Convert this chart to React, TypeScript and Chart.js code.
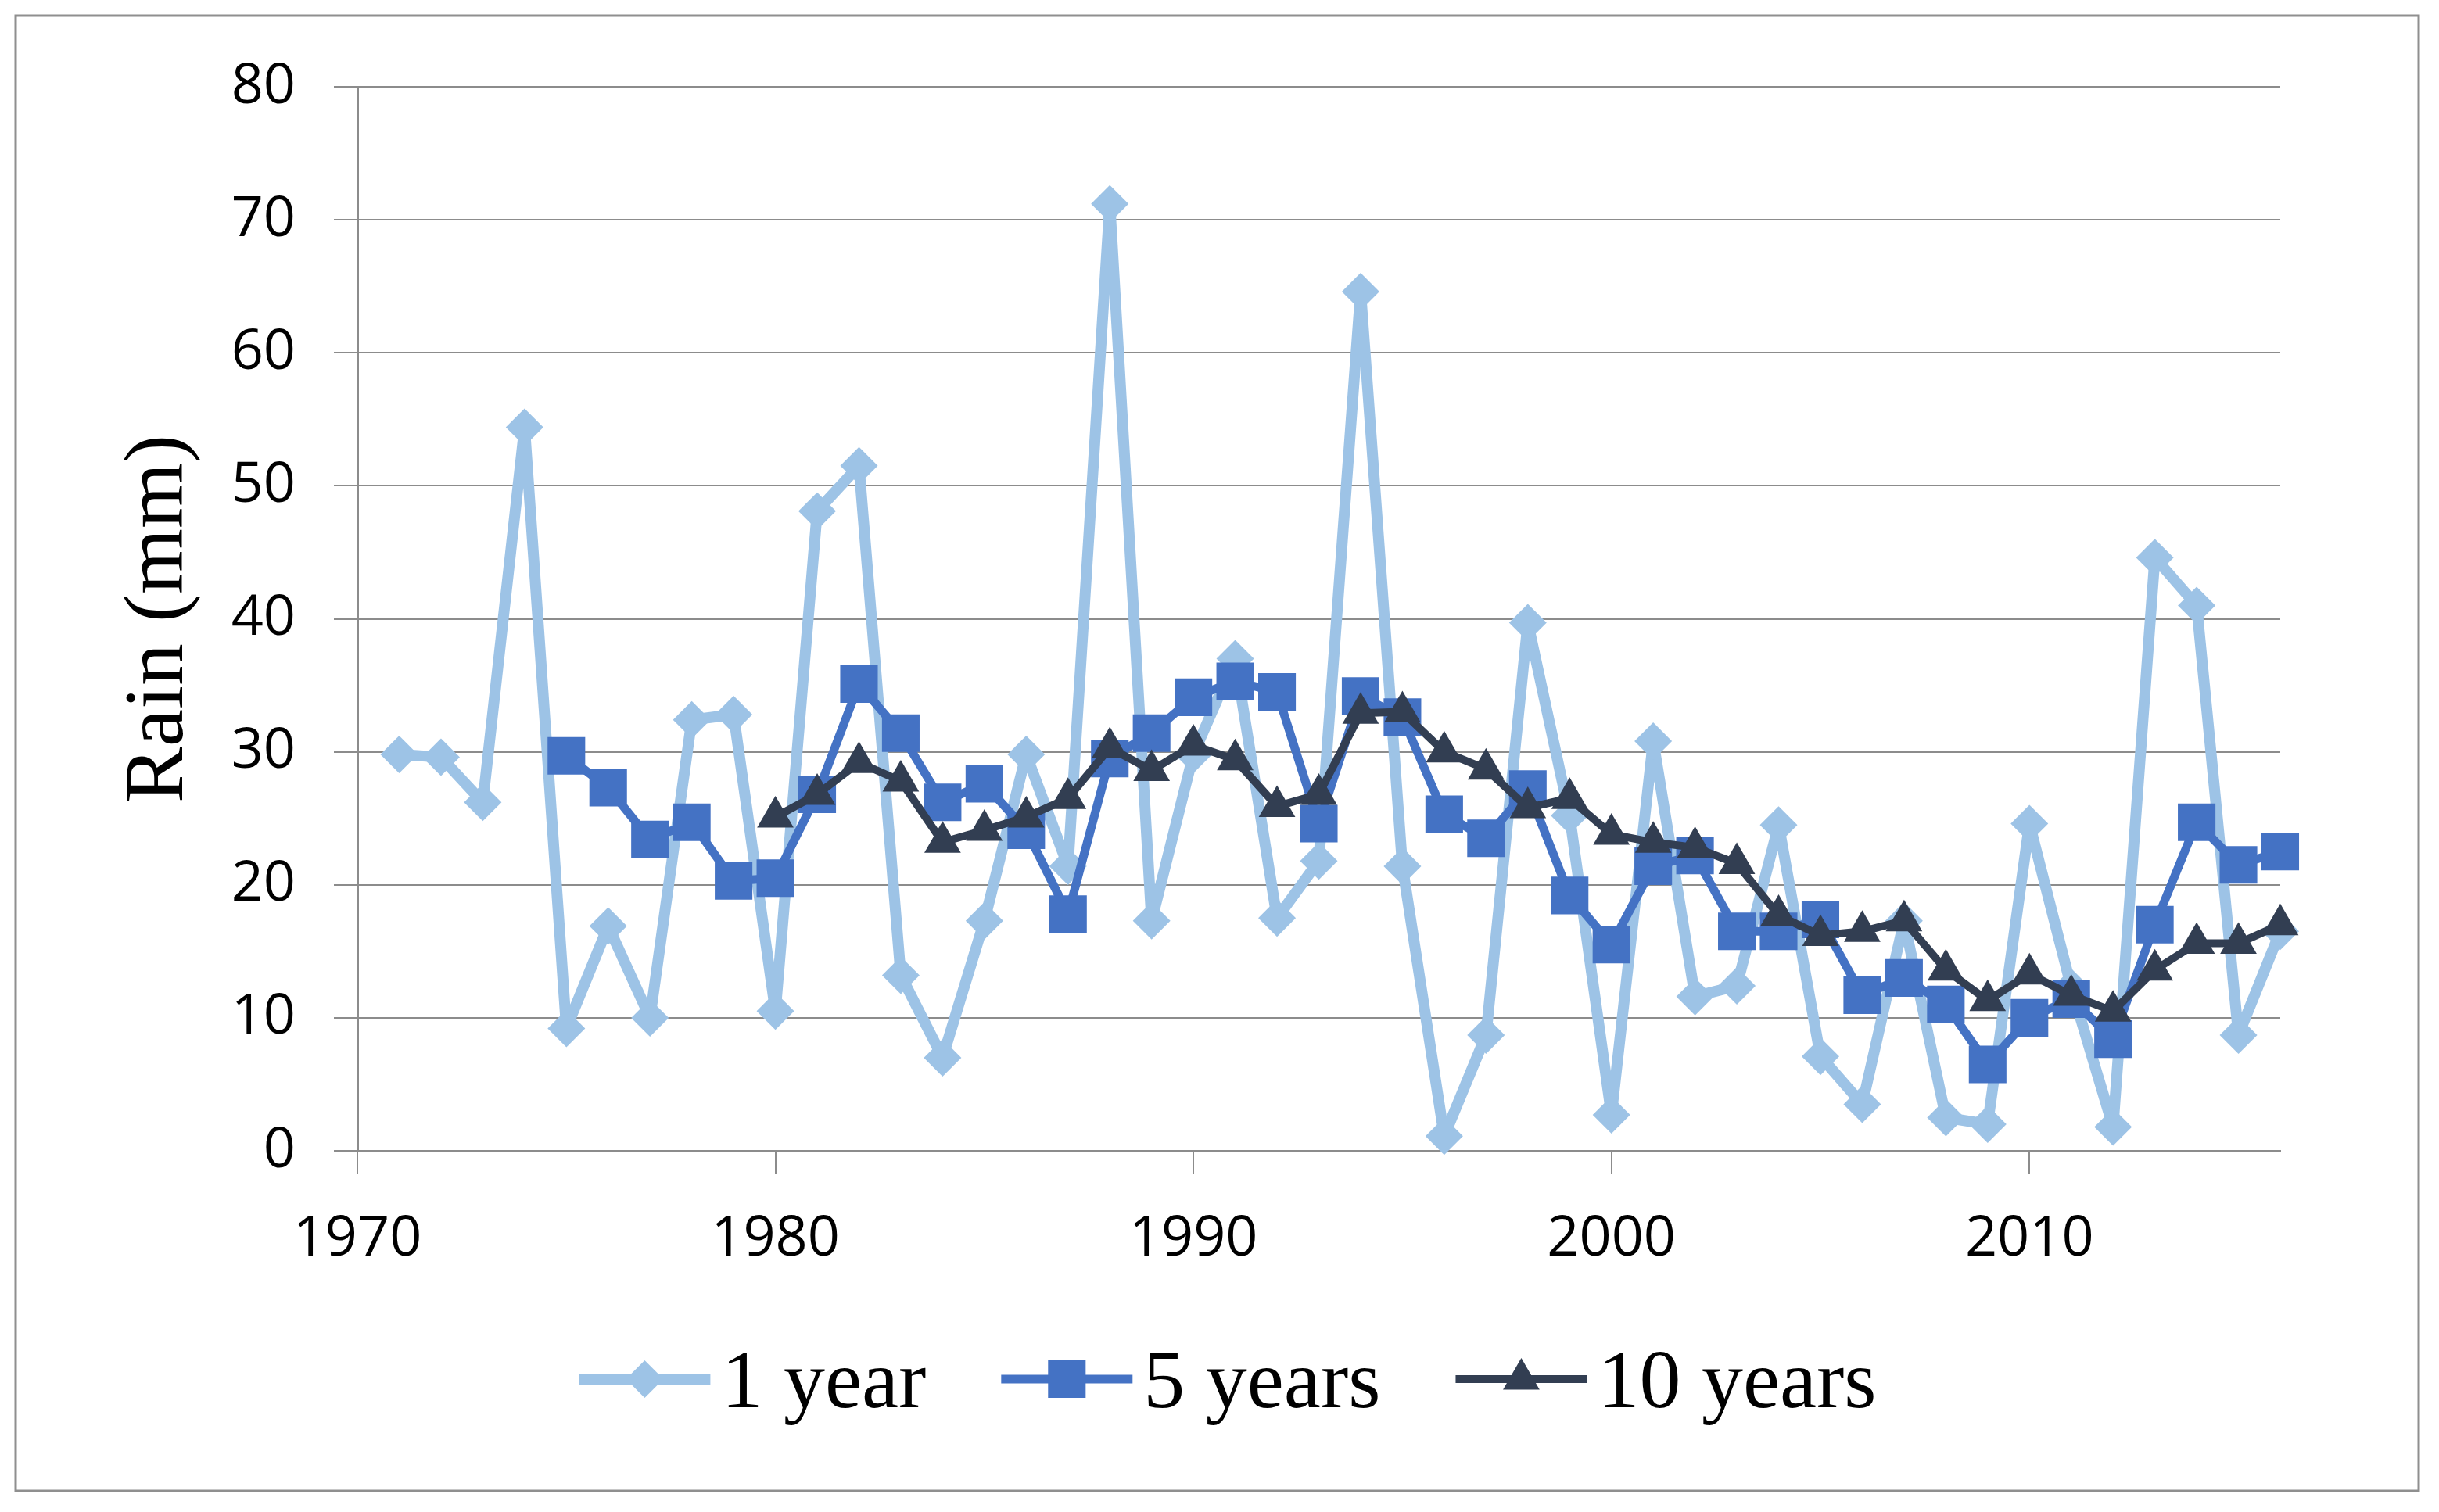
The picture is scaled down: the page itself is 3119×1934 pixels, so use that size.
import React, { useEffect, useRef } from 'react';
import { Chart, registerables } from 'chart.js';
import { drawPoint } from 'chart.js/helpers';

Chart.register(...registerables);

const years = [
  1971, 1972, 1973, 1974, 1975, 1976, 1977, 1978, 1979, 1980,
  1981, 1982, 1983, 1984, 1985, 1986, 1987, 1988, 1989, 1990,
  1991, 1992, 1993, 1994, 1995, 1996, 1997, 1998, 1999, 2000,
  2001, 2002, 2003, 2004, 2005, 2006, 2007, 2008, 2009, 2010,
  2011, 2012, 2013, 2014, 2015, 2016,
];

const oneYear = [
  29.8, 29.6, 26.2, 54.4, 9.2, 16.9, 10.0, 32.4, 32.8, 10.5,
  48.1, 51.5, 13.2, 7.0, 17.3, 29.8, 21.4, 71.2, 17.3, 29.8,
  37.0, 17.5, 21.8, 64.6, 21.4, 1.1, 8.7, 39.7, 25.2, 2.7,
  30.8, 11.6, 12.4, 24.5, 7.1, 3.5, 17.3, 2.5, 2.0, 24.6,
  12.3, 1.8, 44.6, 41.0, 8.7, 16.5,
];

const fiveYears = [
  null, null, null, null, 29.7, 27.3, 23.4, 24.7, 20.3, 20.5,
  26.8, 35.1, 31.4, 26.2, 27.6, 24.1, 17.8, 29.5, 31.4, 34.1,
  35.3, 34.5, 24.6, 34.2, 32.6, 25.3, 23.5, 27.2, 19.2, 15.5,
  21.4, 22.2, 16.5, 16.5, 17.4, 11.7, 13.0, 11.0, 6.5, 10.0,
  11.4, 8.4, 17.0, 24.7, 21.5, 22.5,
];

const tenYears = [
  null, null, null, null, null, null, null, null, null, 25.1,
  26.8, 29.2, 27.8, 23.2, 24.1, 25.1, 26.5, 30.3, 28.6, 30.5,
  29.4, 25.9, 26.8, 32.9, 33.0, 30.0, 28.7, 25.8, 26.5, 23.8,
  23.2, 22.8, 21.6, 17.7, 16.2, 16.5, 17.3, 13.6, 11.3, 13.3,
  11.7, 10.5, 13.6, 15.6, 15.6, 17.0,
];

const seriesLabels = ['1 year', '5 years', '10 years'];
const yTicks = [0, 10, 20, 30, 40, 50, 60, 70, 80];
const xTickYears = [1970, 1980, 1990, 2000, 2010];
const yTitle = 'Rain (mm)';

const W = 3119;
const H = 1934;

const toPoints = (vals: (number | null)[]) =>
  years
    .map((x, i) => ({ x, y: vals[i] }))
    .filter((p) => p.y !== null) as { x: number; y: number }[];

const frameAndLegend = {
  id: 'frameAndLegend',
  beforeDraw(chart: any) {
    const ctx = chart.ctx;
    ctx.save();
    ctx.fillStyle = '#ffffff';
    ctx.fillRect(0, 0, chart.width, chart.height);
    ctx.strokeStyle = '#8f8f8f';
    ctx.lineWidth = 3;
    ctx.strokeRect(20, 20, 3073, 1887);
    ctx.restore();
  },
  afterDraw(chart: any) {
    const ctx = chart.ctx;
    ctx.save();
    ctx.font = '106px "Liberation Serif"';
    const lineLen = 168;
    const gapText = 14;
    const itemGap = 96;
    const ds = chart.data.datasets;
    const items = ds.map((d: any) => ({ d, tw: ctx.measureText(d.label).width }));
    const total =
      items.reduce((s: number, it: any) => s + lineLen + gapText + it.tw, 0) +
      itemGap * (items.length - 1);
    let x = 1570 - total / 2;
    const yLine = 1764;
    items.forEach((it: any) => {
      const d = it.d;
      ctx.strokeStyle = d.borderColor;
      ctx.lineWidth = d.borderWidth;
      ctx.lineCap = 'butt';
      ctx.beginPath();
      ctx.moveTo(x, yLine);
      ctx.lineTo(x + lineLen, yLine);
      ctx.stroke();
      ctx.fillStyle = d.pointBackgroundColor;
      ctx.strokeStyle = d.pointBackgroundColor;
      drawPoint(
        ctx,
        { pointStyle: d.pointStyle, radius: d.pointRadius, rotation: 0, borderWidth: 0 },
        x + lineLen / 2,
        yLine
      );
      ctx.fillStyle = '#000000';
      ctx.textBaseline = 'alphabetic';
      ctx.textAlign = 'left';
      ctx.fillText(d.label, x + lineLen + gapText, 1800);
      x += lineLen + gapText + it.tw + itemGap;
    });
    ctx.restore();
  },
};

export default function App() {
  const ref = useRef<HTMLCanvasElement | null>(null);

  useEffect(() => {
    document.body.style.margin = '0';
    const canvas = ref.current;
    if (!canvas) return;
    const gridColor = '#8c8c8c';
    const chart = new Chart(canvas, {
      type: 'line',
      data: {
        datasets: [
          {
            label: seriesLabels[0],
            data: toPoints(oneYear),
            borderColor: '#9dc3e6',
            backgroundColor: '#9dc3e6',
            pointBackgroundColor: '#9dc3e6',
            borderWidth: 14,
            pointStyle: 'rectRot',
            pointRadius: 24,
            pointBorderWidth: 0,
            borderJoinStyle: 'round',
            borderCapStyle: 'round',
            tension: 0,
            clip: false,
            order: 3,
          } as any,
          {
            label: seriesLabels[1],
            data: toPoints(fiveYears),
            borderColor: '#4472c4',
            backgroundColor: '#4472c4',
            pointBackgroundColor: '#4472c4',
            borderWidth: 11,
            pointStyle: 'rect',
            pointRadius: 34,
            pointBorderWidth: 0,
            borderJoinStyle: 'round',
            borderCapStyle: 'round',
            tension: 0,
            clip: false,
            order: 2,
          } as any,
          {
            label: seriesLabels[2],
            data: toPoints(tenYears),
            borderColor: '#323e52',
            backgroundColor: '#323e52',
            pointBackgroundColor: '#323e52',
            borderWidth: 10,
            pointStyle: 'triangle',
            pointRadius: 27,
            pointBorderWidth: 0,
            borderJoinStyle: 'round',
            borderCapStyle: 'round',
            tension: 0,
            clip: false,
            order: 1,
          } as any,
        ],
      },
      options: {
        responsive: false,
        devicePixelRatio: 1,
        animation: false,
        events: [],
        layout: { padding: { top: 111, right: 203, bottom: 302, left: 0 } },
        plugins: {
          legend: { display: false },
          tooltip: { enabled: false },
          title: { display: false },
        },
        scales: {
          x: {
            type: 'linear',
            min: 1970,
            max: 2016,
            afterFit: (s: any) => {
              s.height = 160;
            },
            afterBuildTicks: (s: any) => {
              s.ticks = xTickYears.map((v) => ({ value: v }));
            },
            ticks: {
              font: { family: '"Open Sans"', size: 72 },
              color: '#000000',
              padding: 40,
              maxRotation: 0,
              autoSkip: false,
              callback: (v: any) => String(v),
            },
            grid: {
              drawOnChartArea: false,
              drawTicks: true,
              tickLength: 30,
              color: gridColor,
              lineWidth: 2,
            },
            border: { display: true, color: gridColor, width: 2 },
          },
          y: {
            type: 'linear',
            min: 0,
            max: 80,
            afterFit: (s: any) => {
              s.width = 457;
            },
            afterBuildTicks: (s: any) => {
              s.ticks = yTicks.map((v) => ({ value: v }));
            },
            ticks: {
              font: { family: '"Open Sans"', size: 72 },
              color: '#000000',
              padding: 49,
              callback: (v: any) => String(v),
            },
            grid: {
              drawTicks: true,
              tickLength: 30,
              color: gridColor,
              lineWidth: 2,
            },
            border: { display: true, color: gridColor, width: 3 },
            title: {
              display: true,
              text: yTitle,
              color: '#000000',
              font: { family: '"Liberation Serif"', size: 108, lineHeight: 1 },
              padding: { top: 151, bottom: 0 },
            },
          },
        },
      },
      plugins: [frameAndLegend],
    });
    return () => chart.destroy();
  }, []);

  return (
    <div style={{ width: W, height: H }}>
      <canvas ref={ref} width={W} height={H} style={{ display: 'block' }} />
    </div>
  );
}
